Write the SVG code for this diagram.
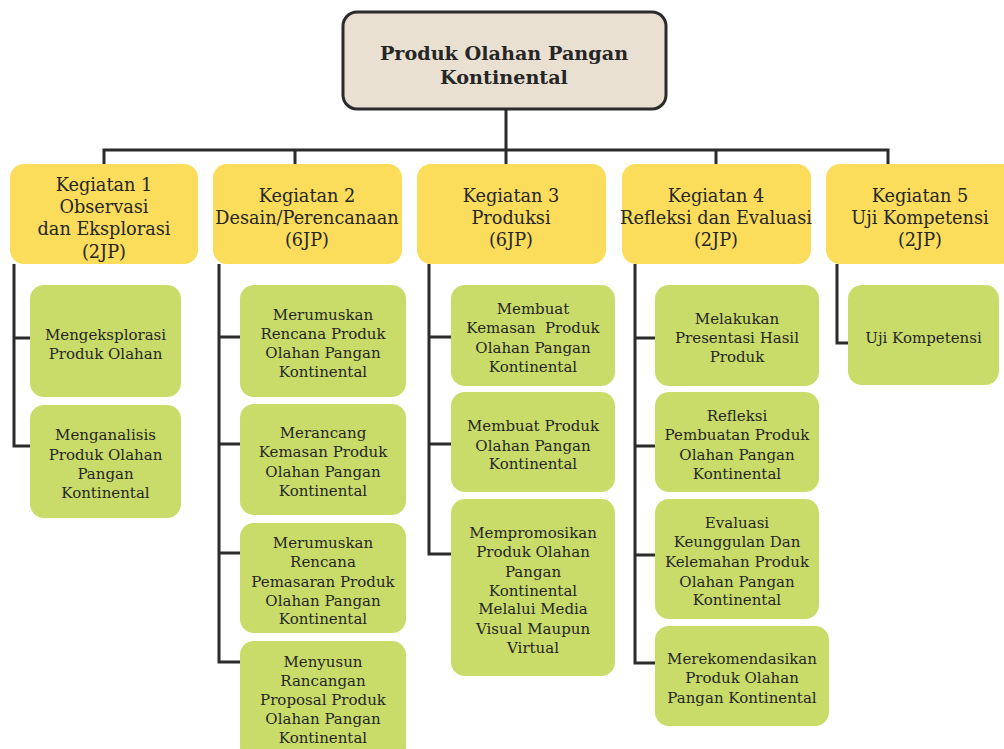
<svg xmlns="http://www.w3.org/2000/svg" width="1004" height="749" viewBox="0 0 1004 749">
<style>
.c{fill:none;stroke:#2b2b2b;stroke-width:3}
.root{fill:#e9e0d2;stroke:#2b2b2b;stroke-width:3}
.hd{fill:#fbdc5b}
.ch{fill:#c9dc69}
text{font-family:"DejaVu Serif","Liberation Serif",serif;fill:#262626;text-anchor:middle}
.tr{font-size:19.2px;font-weight:bold}
.th{font-size:17.7px}
.tc{font-size:15px}
</style>
<rect width="1004" height="749" fill="#fff"/>
<g id="connectors">
<path class="c" d="M506 109V150M104 164V150H888V164M295 150V164M716 150V164M506 150V164"/>
<path class="c" d="M30 446H14V264M14 338H30"/>
<path class="c" d="M240 662H219V264M219 337H240M219 444H240M219 553H240"/>
<path class="c" d="M451 554H429V264M429 337H451M429 444H451"/>
<path class="c" d="M655 663H635V264M635 338H655M635 446H655M635 555H655"/>
<path class="c" d="M848 343H837V264"/>
</g>
<g id="root"><rect class="root" x="343" y="12" width="323" height="97" rx="14"/>
<text class="tr" x="504" y="60">Produk Olahan Pangan</text><text class="tr" x="504" y="84">Kontinental</text></g>
<g id="k1"><rect class="hd" x="10" y="164" width="188" height="100" rx="14"/>
<text class="th" x="104" y="191">Kegiatan 1</text><text class="th" x="104" y="213">Observasi</text><text class="th" x="104" y="235">dan Eksplorasi</text><text class="th" x="104" y="258">(2JP)</text></g>
<g id="k2"><rect class="hd" x="213" y="164" width="189" height="100" rx="14"/>
<text class="th" x="307" y="202">Kegiatan 2</text><text class="th" x="307" y="224">Desain/Perencanaan</text><text class="th" x="307" y="246">(6JP)</text></g>
<g id="k3"><rect class="hd" x="417" y="164" width="189" height="100" rx="14"/>
<text class="th" x="511" y="202">Kegiatan 3</text><text class="th" x="511" y="224">Produksi</text><text class="th" x="511" y="246">(6JP)</text></g>
<g id="k4"><rect class="hd" x="622" y="164" width="189" height="100" rx="14"/>
<text class="th" x="716" y="202">Kegiatan 4</text><text class="th" x="716" y="224">Refleksi dan Evaluasi</text><text class="th" x="716" y="246">(2JP)</text></g>
<g id="k5"><rect class="hd" x="826" y="164" width="190" height="100" rx="14"/>
<text class="th" x="920" y="202">Kegiatan 5</text><text class="th" x="920" y="224">Uji Kompetensi</text><text class="th" x="920" y="246">(2JP)</text></g>

<g id="k1a"><rect class="ch" x="30" y="285" width="151" height="112" rx="14"/>
<text class="tc" x="105.5" y="340">Mengeksplorasi</text><text class="tc" x="105.5" y="359">Produk Olahan</text></g>
<g id="k1b"><rect class="ch" x="30" y="405" width="151" height="113" rx="14"/>
<text class="tc" x="105.5" y="440">Menganalisis</text><text class="tc" x="105.5" y="460">Produk Olahan</text><text class="tc" x="105.5" y="479">Pangan</text><text class="tc" x="105.5" y="498">Kontinental</text></g>

<g id="k2a"><rect class="ch" x="240" y="285" width="166" height="112" rx="14"/>
<text class="tc" x="323" y="320">Merumuskan</text><text class="tc" x="323" y="339">Rencana Produk</text><text class="tc" x="323" y="358">Olahan Pangan</text><text class="tc" x="323" y="377">Kontinental</text></g>
<g id="k2b"><rect class="ch" x="240" y="404" width="166" height="111" rx="14"/>
<text class="tc" x="323" y="438">Merancang</text><text class="tc" x="323" y="457">Kemasan Produk</text><text class="tc" x="323" y="477">Olahan Pangan</text><text class="tc" x="323" y="496">Kontinental</text></g>
<g id="k2c"><rect class="ch" x="240" y="523" width="166" height="110" rx="14"/>
<text class="tc" x="323" y="548">Merumuskan</text><text class="tc" x="323" y="567">Rencana</text><text class="tc" x="323" y="587">Pemasaran Produk</text><text class="tc" x="323" y="606">Olahan Pangan</text><text class="tc" x="323" y="624">Kontinental</text></g>
<g id="k2d"><rect class="ch" x="240" y="641" width="166" height="120" rx="14"/>
<text class="tc" x="323" y="667">Menyusun</text><text class="tc" x="323" y="686">Rancangan</text><text class="tc" x="323" y="705">Proposal Produk</text><text class="tc" x="323" y="724">Olahan Pangan</text><text class="tc" x="323" y="743">Kontinental</text></g>

<g id="k3a"><rect class="ch" x="451" y="285" width="164" height="101" rx="14"/>
<text class="tc" x="533" y="314">Membuat</text><text class="tc" x="533" y="333" xml:space="preserve">Kemasan  Produk</text><text class="tc" x="533" y="353">Olahan Pangan</text><text class="tc" x="533" y="372">Kontinental</text></g>
<g id="k3b"><rect class="ch" x="451" y="392" width="164" height="100" rx="14"/>
<text class="tc" x="533" y="431">Membuat Produk</text><text class="tc" x="533" y="451">Olahan Pangan</text><text class="tc" x="533" y="469">Kontinental</text></g>
<g id="k3c"><rect class="ch" x="451" y="499" width="164" height="177" rx="14"/>
<text class="tc" x="533" y="538">Mempromosikan</text><text class="tc" x="533" y="557">Produk Olahan</text><text class="tc" x="533" y="577">Pangan</text><text class="tc" x="533" y="596">Kontinental</text><text class="tc" x="533" y="614">Melalui Media</text><text class="tc" x="533" y="634">Visual Maupun</text><text class="tc" x="533" y="653">Virtual</text></g>

<g id="k4a"><rect class="ch" x="655" y="285" width="164" height="101" rx="14"/>
<text class="tc" x="737" y="324">Melakukan</text><text class="tc" x="737" y="343">Presentasi Hasil</text><text class="tc" x="737" y="362">Produk</text></g>
<g id="k4b"><rect class="ch" x="655" y="392" width="164" height="100" rx="14"/>
<text class="tc" x="737" y="421">Refleksi</text><text class="tc" x="737" y="440">Pembuatan Produk</text><text class="tc" x="737" y="460">Olahan Pangan</text><text class="tc" x="737" y="479">Kontinental</text></g>
<g id="k4c"><rect class="ch" x="655" y="499" width="164" height="120" rx="14"/>
<text class="tc" x="737" y="528">Evaluasi</text><text class="tc" x="737" y="547">Keunggulan Dan</text><text class="tc" x="737" y="567">Kelemahan Produk</text><text class="tc" x="737" y="587">Olahan Pangan</text><text class="tc" x="737" y="605">Kontinental</text></g>
<g id="k4d"><rect class="ch" x="655" y="626" width="174" height="100" rx="14"/>
<text class="tc" x="742" y="664">Merekomendasikan</text><text class="tc" x="742" y="683">Produk Olahan</text><text class="tc" x="742" y="703">Pangan Kontinental</text></g>

<g id="k5a"><rect class="ch" x="848" y="285" width="151" height="100" rx="14"/>
<text class="tc" x="923.5" y="343">Uji Kompetensi</text></g>
</svg>
